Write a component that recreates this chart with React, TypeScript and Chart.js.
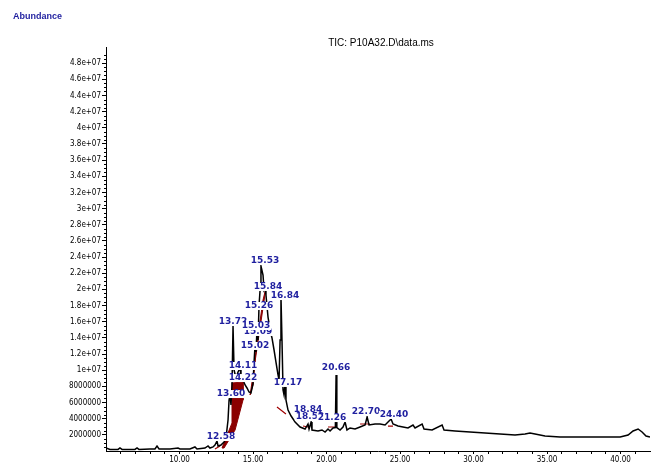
import React, { useEffect, useRef } from 'react';
import { Chart, registerables } from 'chart.js';

Chart.register(...registerables);

const CHART_TITLE = 'TIC: P10A32.D\\data.ms';
const Y_AXIS_TITLE = 'Abundance';
const X_MIN = 5;
const X_MAX = 42;
const Y_MAX = 50000000;

// Total ion chromatogram: retention time (min) and abundance (counts)
const retentionTimes = [
  5.0, 5.27, 5.82, 5.95, 6.09, 6.97, 7.11, 7.24, 7.99, 8.33, 8.47, 8.61, 9.35, 9.9, 10.03, 10.71,
  11.05, 11.19, 11.73, 11.94, 12.07, 12.28, 12.41, 12.55, 12.62, 12.82, 13.03, 13.16, 13.3, 13.37,
  13.44, 13.5, 13.57, 13.64, 13.71, 13.84, 13.98, 14.12, 14.18, 14.32, 14.46, 14.59, 14.73, 14.86,
  15.0, 15.07, 15.14, 15.2, 15.27, 15.34, 15.41, 15.48, 15.54, 15.68, 15.75, 15.82, 15.88, 16.02,
  16.16, 16.29, 16.43, 16.56, 16.7, 16.77, 16.84, 16.9, 16.97, 17.04, 17.11, 17.18, 17.24, 17.38,
  17.59, 17.86, 18.2, 18.54, 18.74, 18.81, 18.95, 19.01, 19.42, 19.69, 19.9, 20.1, 20.24, 20.44,
  20.6, 20.65, 20.7, 20.92, 21.12, 21.26, 21.39, 21.6, 21.94, 22.28, 22.62, 22.76, 22.89, 23.3,
  23.64, 23.98, 24.25, 24.39, 24.52, 24.86, 25.2, 25.54, 25.88, 26.02, 26.5, 26.63, 27.18, 27.86,
  27.99, 28.74, 29.76, 30.78, 31.8, 32.82, 33.5, 33.84, 34.18, 34.86, 35.88, 38.61, 39.97, 40.51,
  40.85, 41.19, 41.46, 41.73, 42.0,
];
const abundances = [
  370000, 190000, 190000, 370000, 190000, 190000, 370000, 190000, 250000, 250000, 620000, 250000,
  250000, 370000, 250000, 250000, 500000, 250000, 370000, 620000, 370000, 500000, 740000, 1240000,
  620000, 740000, 1110000, 1610000, 3840000, 6310000, 6930000, 5690000, 8170000, 15470000,
  10020000, 9030000, 9780000, 10270000, 9280000, 8790000, 8170000, 7800000, 7300000, 7180000,
  8290000, 11010000, 13120000, 12250000, 14980000, 13740000, 18070000, 19930000, 22900000,
  21780000, 19930000, 20170000, 19310000, 16580000, 14980000, 13990000, 12500000, 11010000,
  9410000, 8790000, 13740000, 19180000, 13740000, 7550000, 6930000, 8420000, 6310000, 5070000,
  4330000, 3590000, 2970000, 2720000, 3340000, 2720000, 3590000, 2600000, 2480000, 2600000,
  2350000, 2720000, 2480000, 2850000, 2900000, 9410000, 2900000, 2600000, 2970000, 3590000,
  2600000, 2850000, 2720000, 2970000, 3220000, 4210000, 3220000, 3340000, 3340000, 3220000,
  3710000, 3960000, 3340000, 3090000, 2970000, 2850000, 3220000, 2850000, 3340000, 2720000,
  2600000, 3220000, 2600000, 2480000, 2350000, 2230000, 2100000, 1980000, 2100000, 2230000,
  2100000, 1860000, 1730000, 1730000, 1730000, 1980000, 2480000, 2720000, 2350000, 1860000,
  1730000,
];

// Integration (red) regions
const areaATimes = [12.89, 13.57, 13.57, 14.32, 14.32, 13.78, 13.03, 12.89];
const areaAValues = [370000, 3470000, 8420000, 8540000, 6310000, 2600000, 370000, 370000];
const areaBTimes = [14.8, 15.88, 15.68, 15.2, 15.0, 14.8];
const areaBValues = [6930000, 20170000, 18690000, 12500000, 8170000, 6930000];
// Integration baselines (pairs of start/end)
const baselineStartTimes = [12.41, 16.63, 18.4, 20.1, 22.28, 24.18];
const baselineStartValues = [250000, 5450000, 3090000, 2970000, 3340000, 3090000];
const baselineEndTimes = [12.76, 17.24, 18.74, 20.58, 22.96, 24.52];
const baselineEndValues = [620000, 4580000, 2970000, 2970000, 3340000, 3090000];

// Peak labels
const peakLabels = [
  '12.58', '13.60', '14.11', '14.22', '13.72', '15.02', '15.09', '15.03', '15.26', '15.84',
  '15.53', '16.84', '17.17', '20.66', '18.84', '18.52', '21.26', '22.70', '24.40',
];
const peakLabelTimes = [
  12.82, 13.5, 14.32, 14.32, 13.64, 15.14, 15.34, 15.2, 15.41, 16.02, 15.82, 17.18, 17.38, 20.65,
  18.74, 18.88, 20.37, 22.69, 24.59,
];
const peakLabelValues = [
  1730000, 7050000, 10520000, 9030000, 15970000, 13000000, 14730000, 15470000, 17950000,
  20300000, 23510000, 19180000, 8420000, 10270000, 5070000, 4210000, 4080000, 4830000, 4460000,
];

const fmtY = (v: number) => {
  if (v >= 10000000) {
    const m = v / 10000000;
    return `${Number(m.toFixed(1))}e+07`;
  }
  return String(v);
};

const LABEL_BLUE = '#1f1f9f';

const annotPlugin = {
  id: 'annot',
  afterDatasetsDraw(chart: any) {
    const { ctx, scales } = chart;
    const x = scales.x;
    const y = scales.y;
    ctx.save();
    ctx.font = 'bold 9px "DejaVu Sans", sans-serif';
    ctx.textAlign = 'center';
    ctx.textBaseline = 'middle';
    peakLabels.forEach((lab, i) => {
      const px = x.getPixelForValue(peakLabelTimes[i]);
      const py = y.getPixelForValue(peakLabelValues[i]);
      const w = ctx.measureText(lab).width;
      ctx.fillStyle = '#ffffff';
      ctx.fillRect(px - w / 2 - 1, py - 4, w + 2, 8);
      ctx.fillStyle = LABEL_BLUE;
      ctx.fillText(lab, px, py);
    });
    ctx.restore();
  },
  afterDraw(chart: any) {
    const { ctx, chartArea, scales } = chart;
    const y = scales.y;
    ctx.save();
    // minor y ticks
    ctx.strokeStyle = '#000';
    ctx.lineWidth = 1;
    for (let v = 500000; v < 49500000; v += 500000) {
      if (v % 2000000 === 0) continue;
      const py = Math.round(y.getPixelForValue(v)) + 0.5;
      ctx.beginPath();
      ctx.moveTo(chartArea.left - 2, py);
      ctx.lineTo(chartArea.left, py);
      ctx.stroke();
    }
    // title
    ctx.fillStyle = '#000';
    ctx.font = '10px "Liberation Sans", Arial, sans-serif';
    ctx.textAlign = 'center';
    ctx.textBaseline = 'middle';
    ctx.fillText(CHART_TITLE, 381, 43);
    // y axis title
    ctx.fillStyle = LABEL_BLUE;
    ctx.font = 'bold 9px "Liberation Sans", Arial, sans-serif';
    ctx.textAlign = 'left';
    ctx.fillText(Y_AXIS_TITLE, 13, 17);
    ctx.restore();
  },
};

export default function App() {
  const ref = useRef<HTMLCanvasElement | null>(null);

  useEffect(() => {
    if (!ref.current) return;
    const trace = retentionTimes.map((t, i) => ({ x: t, y: abundances[i] }));
    const areaA = areaATimes.map((t, i) => ({ x: t, y: areaAValues[i] }));
    const areaB = areaBTimes.map((t, i) => ({ x: t, y: areaBValues[i] }));
    const baselines: { x: number; y: number | null }[] = [];
    baselineStartTimes.forEach((t, i) => {
      baselines.push({ x: t, y: baselineStartValues[i] });
      baselines.push({ x: baselineEndTimes[i], y: baselineEndValues[i] });
      baselines.push({ x: baselineEndTimes[i], y: null });
    });

    const tickFont = { family: '"Liberation Sans Narrow", "DejaVu Sans Condensed", "Liberation Sans", Arial', size: 8 };

    const chart = new Chart(ref.current, {
      type: 'line',
      data: {
        datasets: [
          {
            data: trace,
            borderColor: '#000000',
            borderWidth: 1.5,
            pointRadius: 0,
            tension: 0,
            fill: false,
          },
          {
            data: areaA,
            borderColor: '#8b0000',
            backgroundColor: '#8b0000',
            borderWidth: 1,
            pointRadius: 0,
            tension: 0,
            fill: 'shape',
          },
          {
            data: areaB,
            borderColor: '#8b0000',
            backgroundColor: '#8b0000',
            borderWidth: 1,
            pointRadius: 0,
            tension: 0,
            fill: 'shape',
          },
          {
            data: baselines,
            borderColor: '#a00000',
            borderWidth: 1.2,
            pointRadius: 0,
            tension: 0,
            spanGaps: false,
            fill: false,
          },
        ],
      } as any,
      options: {
        animation: false,
        responsive: false,
        devicePixelRatio: 1,
        layout: { padding: { top: 47, right: 3, left: 0, bottom: 0 } },
        plugins: { legend: { display: false }, tooltip: { enabled: false }, title: { display: false } },
        scales: {
          x: {
            type: 'linear',
            min: X_MIN,
            max: X_MAX,
            afterFit: (s: any) => {
              s.height = 18;
            },
            afterBuildTicks: (s: any) => {
              const ticks = [];
              for (let v = 6; v <= 41; v++) ticks.push({ value: v });
              s.ticks = ticks;
            },
            ticks: {
              autoSkip: false,
              maxRotation: 0,
              padding: 1,
              color: '#000',
              font: tickFont,
              callback: (v: any) => (Number(v) % 5 === 0 ? Number(v).toFixed(2) : ''),
            },
            grid: { drawOnChartArea: false, drawTicks: true, tickLength: 3, color: '#000' },
            border: { color: '#000', width: 1 },
          },
          y: {
            type: 'linear',
            min: 0,
            max: Y_MAX,
            afterFit: (s: any) => {
              s.width = 106;
            },
            afterBuildTicks: (s: any) => {
              const ticks = [];
              for (let v = 2000000; v <= 48000000; v += 2000000) ticks.push({ value: v });
              s.ticks = ticks;
            },
            ticks: {
              autoSkip: false,
              padding: 1,
              color: '#000',
              font: tickFont,
              callback: (v: any) => fmtY(Number(v)),
            },
            grid: { drawOnChartArea: false, drawTicks: true, tickLength: 4, color: '#000' },
            border: { color: '#000', width: 1 },
          },
        },
      } as any,
      plugins: [annotPlugin],
    });
    return () => chart.destroy();
  }, []);

  return (
    <div style={{ position: 'absolute', left: 0, top: 0, width: 653, height: 469, background: '#fff' }}>
      <canvas ref={ref} width={653} height={469} style={{ display: 'block', width: 653, height: 469 }} />
    </div>
  );
}
